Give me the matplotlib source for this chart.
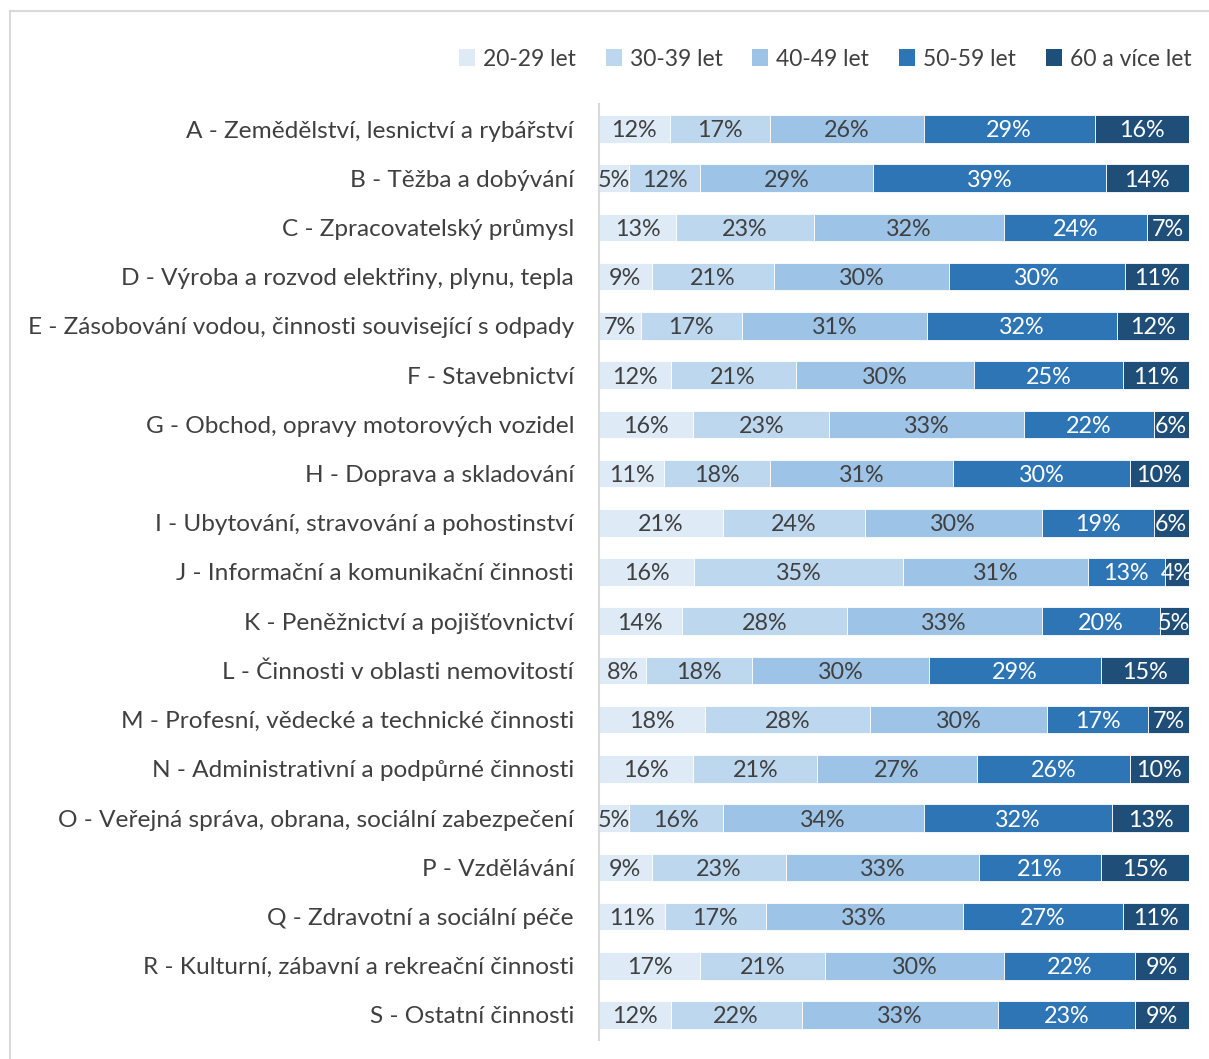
import numpy as np
import matplotlib
matplotlib.use("Agg")
import matplotlib.pyplot as plt
from matplotlib.lines import Line2D
from matplotlib.patches import Patch

plt.rcParams["font.family"] = ["Lato", "DejaVu Sans"]

categories = [
    "A - Zemědělství, lesnictví a rybářství",
    "B - Těžba a dobývání",
    "C - Zpracovatelský průmysl",
    "D - Výroba a rozvod elektřiny, plynu, tepla",
    "E - Zásobování vodou, činnosti související s odpady",
    "F - Stavebnictví",
    "G - Obchod, opravy motorových vozidel",
    "H - Doprava a skladování",
    "I - Ubytování, stravování a pohostinství",
    "J - Informační a komunikační činnosti",
    "K - Peněžnictví a pojišťovnictví",
    "L - Činnosti v oblasti nemovitostí",
    "M - Profesní, vědecké a technické činnosti",
    "N - Administrativní a podpůrné činnosti",
    "O - Veřejná správa, obrana, sociální zabezpečení",
    "P - Vzdělávání",
    "Q - Zdravotní a sociální péče",
    "R - Kulturní, zábavní a rekreační činnosti",
    "S - Ostatní činnosti",
]
age_groups = ["20-29 let", "30-39 let", "40-49 let", "50-59 let", "60 a více let"]

age_20_29 = [12, 5, 13, 9, 7, 12, 16, 11, 21, 16, 14, 8, 18, 16, 5, 9, 11, 17, 12]
age_30_39 = [17, 12, 23, 21, 17, 21, 23, 18, 24, 35, 28, 18, 28, 21, 16, 23, 17, 21, 22]
age_40_49 = [26, 29, 32, 30, 31, 30, 33, 31, 30, 31, 33, 30, 30, 27, 34, 33, 33, 30, 33]
age_50_59 = [29, 39, 24, 30, 32, 25, 22, 30, 19, 13, 20, 29, 17, 26, 32, 21, 27, 22, 23]
age_60_up = [16, 14, 7, 11, 12, 11, 6, 10, 6, 4, 5, 15, 7, 10, 13, 15, 11, 9, 9]

colors = ["#DEEBF7", "#BDD7EE", "#9DC3E6", "#2E75B6", "#1F4E79"]
text_colors = ["#404040", "#404040", "#404040", "white", "white"]

series = np.array([age_20_29, age_30_39, age_40_49, age_50_59, age_60_up], dtype=float)
shares = series / series.sum(axis=0)

W, H = 1209, 1059
fig = plt.figure(figsize=(W / 100, H / 100), dpi=100)
ax = fig.add_axes([599 / W, 1 - 1039.6 / H, 590 / W, 935.2 / H])

y = np.arange(len(categories))
left = np.zeros(len(categories))
for k in range(len(age_groups)):
    ax.barh(y, shares[k], left=left, height=0.56, color=colors[k],
            edgecolor="white", linewidth=0.6, label=age_groups[k])
    for i in range(len(categories)):
        ax.text(left[i] + shares[k][i] / 2, y[i] + 0.04, f"{int(series[k][i])}%",
                ha="center", va="center", fontsize=16.8, color=text_colors[k])
    left += shares[k]

ax.set_xlim(0, 1)
ax.set_ylim(len(categories) - 0.5, -0.5)
ax.set_yticks(y)
ax.set_yticklabels(categories, fontsize=17.6, color="#404040")
ax.tick_params(axis="y", length=0, pad=18)
ax.set_xticks([])
for s in ["top", "right", "bottom"]:
    ax.spines[s].set_visible(False)
ax.spines["left"].set_color("#D9D9D9")
ax.spines["left"].set_linewidth(1.5)

handles = [Patch(facecolor=c, edgecolor="none") for c in colors]
fig.legend(handles, age_groups, loc="center right",
           bbox_to_anchor=(1212 / W, 1 - 59 / H), ncol=5, frameon=False,
           fontsize=16.5, handlelength=0.7, handleheight=0.7,
           handletextpad=0.35, columnspacing=1.3, labelcolor="#404040")

# chart frame
fig.add_artist(Line2D([10 / W, 1.0], [1 - 11 / H, 1 - 11 / H], color="#D9D9D9", lw=1.5))
fig.add_artist(Line2D([10 / W, 10 / W], [0, 1 - 11 / H], color="#D9D9D9", lw=1.5))

fig.savefig("out.png", dpi=100)
